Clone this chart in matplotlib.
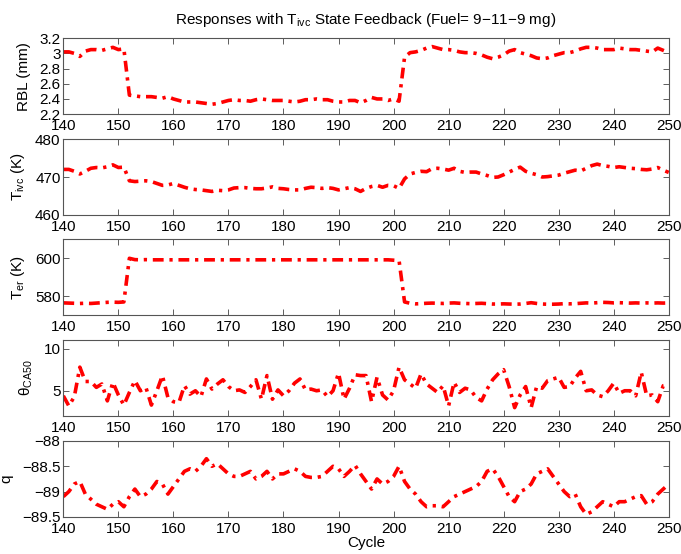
import numpy as np
import matplotlib.pyplot as plt

plt.rcParams['font.family'] = ['Liberation Sans', 'DejaVu Sans']
plt.rcParams['mathtext.fontset'] = 'custom'
plt.rcParams['mathtext.rm'] = 'Liberation Sans'
plt.rcParams['mathtext.it'] = 'Liberation Sans'

# ---- data: cycles 140..250 ----
cycle = np.arange(140, 251)

rbl = [3.02, 3.02, 3.00, 2.96, 3.03, 3.05, 3.05, 3.04, 3.06, 3.08,
       3.05, 3.06, 2.45, 2.44, 2.43, 2.43, 2.43, 2.42, 2.41, 2.43,
       2.40, 2.38, 2.36, 2.36, 2.36, 2.35, 2.34, 2.33, 2.34, 2.36,
       2.38, 2.39, 2.38, 2.38, 2.37, 2.39, 2.40, 2.39, 2.38, 2.38,
       2.38, 2.37, 2.36, 2.37, 2.39, 2.39, 2.40, 2.39, 2.39, 2.37,
       2.36, 2.36, 2.38, 2.38, 2.35, 2.38, 2.42, 2.40, 2.40, 2.38,
       2.40, 2.37, 2.95, 3.01, 3.02, 3.04, 3.07, 3.09, 3.07, 3.05,
       3.05, 3.04, 3.02, 3.01, 3.01, 3.00, 2.98, 2.95, 2.93, 2.95,
       2.98, 3.03, 3.05, 3.01, 2.99, 2.97, 2.94, 2.93, 2.94, 2.97,
       2.99, 3.01, 3.01, 3.03, 3.06, 3.08, 3.08, 3.07, 3.05, 3.05,
       3.05, 3.07, 3.06, 3.05, 3.05, 3.04, 3.03, 3.02, 3.07, 3.04,
       3.01]

t_ivc = [472.0, 472.0, 471.5, 470.8, 471.5, 472.3, 472.5, 472.4, 472.7, 473.2,
         472.5, 472.6, 469.0, 468.8, 468.9, 469.0, 468.8, 468.3, 467.8, 467.9,
         468.3, 467.8, 467.3, 466.9, 466.7, 466.6, 466.4, 466.2, 466.5, 466.4,
         466.6, 467.1, 467.2, 467.2, 467.0, 466.9, 466.9, 467.1, 467.4, 467.0,
         466.9, 466.7, 466.6, 466.6, 467.0, 467.3, 467.2, 467.0, 467.2, 467.0,
         466.6, 466.9, 467.2, 466.9, 466.2, 467.0, 467.5, 467.8, 467.3, 467.8,
         467.7, 467.0, 469.5, 470.8, 471.2, 471.5, 471.4, 472.2, 472.3, 472.1,
         471.8, 472.3, 471.5, 471.2, 471.3, 471.3, 470.8, 470.4, 469.9, 470.0,
         470.6, 471.3, 472.0, 472.6, 471.5, 471.0, 470.6, 470.0, 470.1, 470.3,
         470.5, 471.0, 471.4, 471.8, 471.6, 472.3, 473.0, 473.4, 473.0, 472.8,
         472.5, 472.7, 472.5, 472.3, 472.2, 472.0, 471.9, 472.1, 472.5, 471.8,
         471.2]

t_er = [576.5, 576.4, 576.3, 576.2, 576.3, 576.2, 576.4, 576.6, 576.8, 576.9,
        576.8, 577.0, 600.0, 599.3, 599.2, 599.3, 599.2, 599.2, 599.2, 599.2,
        599.2, 599.2, 599.2, 599.2, 599.2, 599.2, 599.2, 599.2, 599.2, 599.2,
        599.2, 599.2, 599.2, 599.2, 599.2, 599.2, 599.2, 599.2, 599.2, 599.2,
        599.2, 599.2, 599.2, 599.2, 599.2, 599.2, 599.2, 599.2, 599.2, 599.2,
        599.2, 599.2, 599.2, 599.2, 599.2, 599.2, 599.2, 599.2, 599.2, 599.2,
        599.0, 598.8, 577.0, 576.3, 576.0, 576.1, 576.3, 576.4, 576.3, 576.2,
        576.4, 576.5, 576.3, 576.2, 576.1, 576.2, 576.3, 576.1, 575.9, 575.9,
        576.0, 575.9, 575.8, 575.9, 576.2, 576.6, 576.2, 575.9, 575.8, 575.8,
        575.9, 576.1, 576.0, 576.1, 576.3, 576.5, 576.4, 576.6, 576.8, 576.7,
        576.5, 576.6, 576.5, 576.4, 576.5, 576.4, 576.5, 576.4, 576.5, 576.4,
        576.5]

theta_ca50 = [4.4, 3.2, 4.3, 7.8, 6.1, 6.1, 5.4, 5.8, 3.8, 6.0,
              4.5, 3.3, 4.8, 6.2, 5.0, 5.4, 3.3, 5.0, 6.8, 4.2,
              3.7, 3.6, 5.6, 4.6, 5.0, 4.3, 6.4, 5.2, 5.8, 6.3,
              5.5, 5.0, 5.1, 4.8, 5.5, 6.3, 4.0, 6.8, 4.0, 5.1,
              4.4, 5.0, 5.9, 6.4, 5.1, 5.2, 5.0, 5.1, 4.3, 5.0,
              7.1, 4.0, 5.3, 6.9, 6.8, 6.8, 3.7, 6.6, 4.5, 3.9,
              5.0, 7.8, 6.3, 5.8, 5.3, 7.0, 5.8, 5.3, 4.8, 5.6,
              3.2, 6.0, 4.8, 5.3, 5.1, 4.2, 3.8, 5.2, 6.3, 7.0,
              7.5, 5.5, 3.0, 4.5, 5.5, 3.0, 5.5, 5.3, 6.2, 6.4,
              6.6, 5.4, 5.5, 6.5, 7.3, 5.0, 5.1, 4.5, 4.3, 5.0,
              5.9, 4.7, 5.0, 5.0, 4.4, 7.2, 4.4, 4.5, 3.7, 5.6,
              5.7]

q = [-89.10, -89.00, -88.85, -88.80, -89.05, -89.15, -89.25, -89.30, -89.35, -89.25,
     -89.20, -89.30, -89.10, -88.95, -89.10, -89.05, -88.95, -88.80, -88.85, -89.05,
     -88.90, -88.75, -88.60, -88.55, -88.60, -88.50, -88.35, -88.50, -88.45, -88.55,
     -88.65, -88.70, -88.70, -88.65, -88.60, -88.75, -88.70, -88.60, -88.75, -88.65,
     -88.65, -88.60, -88.55, -88.60, -88.70, -88.72, -88.72, -88.70, -88.60, -88.50,
     -88.55, -88.70, -88.60, -88.48, -88.65, -88.80, -88.95, -88.75, -88.85, -88.80,
     -88.70, -88.50, -88.80, -88.95, -89.05, -89.20, -89.30, -89.28, -89.28, -89.30,
     -89.20, -89.10, -89.05, -89.00, -88.95, -88.90, -88.80, -88.60, -88.55, -88.70,
     -88.90, -89.10, -89.20, -89.00, -88.95, -88.85, -88.65, -88.60, -88.55, -88.70,
     -88.85, -89.00, -89.10, -89.05, -89.30, -89.45, -89.40, -89.30, -89.20, -89.25,
     -89.30, -89.20, -89.20, -89.15, -89.10, -89.08, -89.25, -89.20, -89.05, -88.95,
     -88.85]

series = [rbl, t_ivc, t_er, theta_ca50, q]
ylabels = ['RBL (mm)', r'T$_{ivc}$ (K)', r'T$_{er}$ (K)', r'$\theta_{CA50}$', 'q']
ylims = [(2.2, 3.2), (460, 480), (570, 610), (2, 11), (-89.5, -88)]
yticks = [[2.2, 2.4, 2.6, 2.8, 3.0, 3.2], [460, 470, 480], [580, 600], [5, 10],
          [-89.5, -89, -88.5, -88]]
yticklabels = [['2.2', '2.4', '2.6', '2.8', '3', '3.2'], ['460', '470', '480'],
               ['580', '600'], ['5', '10'],
               ['\u221289.5', '\u221289', '\u221288.5', '\u221288']]

# ---- figure ----
fig = plt.figure(figsize=(6.81, 5.54), dpi=100)
left, width, height = 0.093, 0.889, 0.137
bottoms = [0.794, 0.612, 0.431, 0.249, 0.067]

for i in range(5):
    ax = fig.add_axes([left, bottoms[i], width, height])
    ax.plot(cycle, series[i], color='red', linestyle='-.', linewidth=2.6,
            dashes=(3.0, 1.6, 0.9, 1.6))
    ax.set_xlim(140, 250)
    ax.set_ylim(*ylims[i])
    ax.set_xticks(np.arange(140, 251, 10))
    ax.set_yticks(yticks[i])
    ax.set_yticklabels(yticklabels[i])
    ax.set_ylabel(ylabels[i], fontsize=11, labelpad=6)
    ax.tick_params(direction='in', length=4, width=0.6, color='#444444',
                   top=True, right=True, labelsize=11)
    ax.tick_params(axis='x', pad=3.5)
    ax.tick_params(axis='y', pad=2)
    for spine in ax.spines.values():
        spine.set_color('#555555')
        spine.set_linewidth(0.8)
    if i == 0:
        ax.set_title(r'Responses with T$_{ivc}$ State Feedback (Fuel= 9$-$11$-$9 mg)',
                     fontsize=11, pad=10)
    if i == 4:
        ax.set_xlabel('Cycle', fontsize=11, labelpad=0)

fig.savefig('out.png', dpi=100)
